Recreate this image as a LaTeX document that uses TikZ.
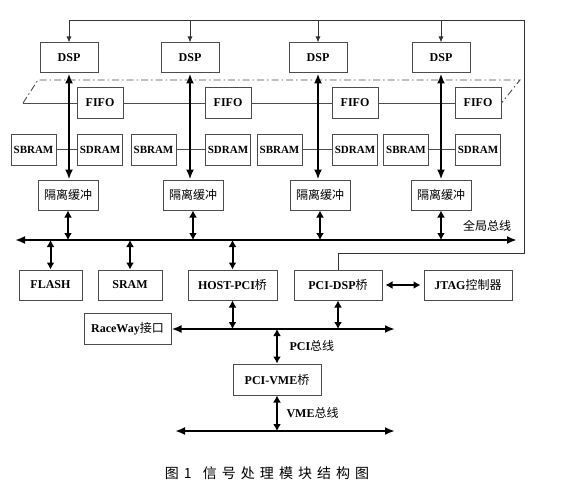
\documentclass[tikz,border=0pt]{standalone}
\usepackage{fontspec}
\setmainfont{Liberation Serif}
\newfontfamily\cjk{Noto Sans CJK SC}
\newfontfamily\cjkcap[LetterSpace=36]{Noto Sans CJK SC}
\usetikzlibrary{arrows.meta, positioning}
\newcommand{\zh}[1]{{\cjk\mdseries #1}}

\begin{document}
\begin{tikzpicture}[
    x=1pt, y=-1pt,
    blk/.style={draw=black!70, line width=1pt, fill=white, minimum height=30,
        inner sep=1pt, font=\fontsize{12}{14}\selectfont\bfseries},
    ram/.style={blk, minimum width=45, minimum height=31, font=\fontsize{11}{13}\selectfont\bfseries},
    bus/.style={line width=2.2pt, {Latex[length=10pt,width=8pt]}-{Latex[length=10pt,width=8pt]}},
    link/.style={line width=2pt, {Latex[length=7pt,width=8pt]}-{Latex[length=7pt,width=8pt]}},
    feed/.style={line width=0.9pt, draw=black!80, -{Latex[length=6pt,width=5pt]}},
    thinln/.style={line width=0.9pt, draw=black!70},
    lbl/.style={font=\fontsize{12}{14}\selectfont}
]
    \useasboundingbox (0,0) rectangle (568,487);

    % DSP 阵列：四列
    \node[blk, minimum width=58] (d1) at (69,58) {DSP};
    \node[blk, minimum width=58] (d2) at (190,58) {DSP};
    \node[blk, minimum width=58] (d3) at (318,58) {DSP};
    \node[blk, minimum width=58] (d4) at (441,58) {DSP};

    \node[blk, minimum width=46] (f1) at (100,103) {FIFO};
    \node[blk, minimum width=46] (f2) at (228,103) {FIFO};
    \node[blk, minimum width=46] (f3) at (355,103) {FIFO};
    \node[blk, minimum width=46] (f4) at (478,103) {FIFO};

    \node[ram] (sb1) at (33.5,149.5) {SBRAM};
    \node[ram] (sb2) at (153.5,149.5) {SBRAM};
    \node[ram] (sb3) at (279.5,149.5) {SBRAM};
    \node[ram] (sb4) at (406,149.5) {SBRAM};
    \node[ram] (sd1) at (100,149.5) {SDRAM};
    \node[ram] (sd2) at (228,149.5) {SDRAM};
    \node[ram] (sd3) at (355,149.5) {SDRAM};
    \node[ram] (sd4) at (478,149.5) {SDRAM};

    \node[blk, minimum width=60] (b1) at (68,195) {\zh{隔离缓冲}};
    \node[blk, minimum width=60] (b2) at (193,195) {\zh{隔离缓冲}};
    \node[blk, minimum width=60] (b3) at (320,195) {\zh{隔离缓冲}};
    \node[blk, minimum width=60] (b4) at (441,195) {\zh{隔离缓冲}};

    % 总线与外设
    \coordinate (gl) at (15,240);
    \coordinate (gr) at (517,240);
    \node[blk, minimum width=63] (fl) at (50.5,285) {FLASH};
    \node[blk, minimum width=64] (sr) at (130,285) {SRAM};
    \node[blk, minimum width=89] (hp) at (232.5,285) {HOST-PCI\zh{桥}};
    \node[blk, minimum width=88] (pd) at (338,285) {PCI-DSP\zh{桥}};
    \node[blk, minimum width=88] (jt) at (468,285) {JTAG\zh{控制器}};
    \node[blk, minimum width=87, minimum height=31] (rw) at (127.5,329) {RaceWay\zh{接口}};
    \coordinate (pr) at (395,329);
    \node[blk, minimum width=88, minimum height=31] (pv) at (277,379.5) {PCI-VME\zh{桥}};
    \coordinate (vl) at (175,431);
    \coordinate (vr) at (395,431);

    % FIFO 链与点划线
    \coordinate (fk) at (23,103);
    \coordinate (kl) at (38,80);
    \coordinate (kr) at (520,80);
    \draw[thinln, dash pattern=on 7pt off 3pt on 1.5pt off 3pt] (fk) -- (kl) -- (kr) -- (f4.east);
    \draw[thinln] (fk) -- (f1) -- (f2) -- (f3) -- (f4);
    \draw[thinln] (sb1) -- (sd1);
    \draw[thinln] (sb2) -- (sd2);
    \draw[thinln] (sb3) -- (sd3);
    \draw[thinln] (sb4) -- (sd4);

    % DSP 到隔离缓冲
    \draw[bus] (d1.south) -- (d1.south |- b1.north);
    \draw[bus] (d2.south) -- (d2.south |- b2.north);
    \draw[bus] (d3.south) -- (d3.south |- b3.north);
    \draw[bus] (d4.south) -- (d4.south |- b4.north);

    % 全局总线
    \draw[bus] (gl) -- (gr);
    \draw[link] (b1) -- (b1 |- gl);
    \draw[link] (b2) -- (b2 |- gl);
    \draw[link] (b3) -- (b3 |- gl);
    \draw[link] (b4) -- (b4 |- gl);
    \node[lbl] (lgb) at (487,226) {\zh{全局总线}};
    \draw[link] (fl |- gl) -- (fl);
    \draw[link] (sr |- gl) -- (sr);
    \draw[link] (hp |- gl) -- (hp);

    % 复位/加载线
    \coordinate (ct) at (524,20);
    \coordinate (cr) at (524,253);
    \draw[feed] (pd.north) |- (cr) -- (ct) -| (d1.north);
    \draw[feed] (d2.north |- ct) -- (d2.north);
    \draw[feed] (d3.north |- ct) -- (d3.north);
    \draw[feed] (d4.north |- ct) -- (d4.north);

    % PCI 总线
    \draw[link, shorten <=3pt, shorten >=3pt] (pd) -- (jt);
    \draw[bus] (rw) -- (pr);
    \draw[link] (hp) -- (hp |- pr);
    \draw[link] (pd) -- (pd |- pr);
    \draw[link] (pv |- pr) -- (pv);
    \node[lbl, anchor=west] (lpci) at (286,346) {\textbf{PCI}\zh{总线}};

    % VME 总线
    \draw[bus] (vl) -- (vr);
    \draw[link] (pv) -- (pv |- vl);
    \node[lbl, anchor=west] (lvme) at (283,413) {\textbf{VME}\zh{总线}};

    \node[font=\fontsize{14}{16}\selectfont\cjkcap] (cap) at (267,473) {图1\hspace{0.8em}信号处理模块结构图};
\end{tikzpicture}
\end{document}
